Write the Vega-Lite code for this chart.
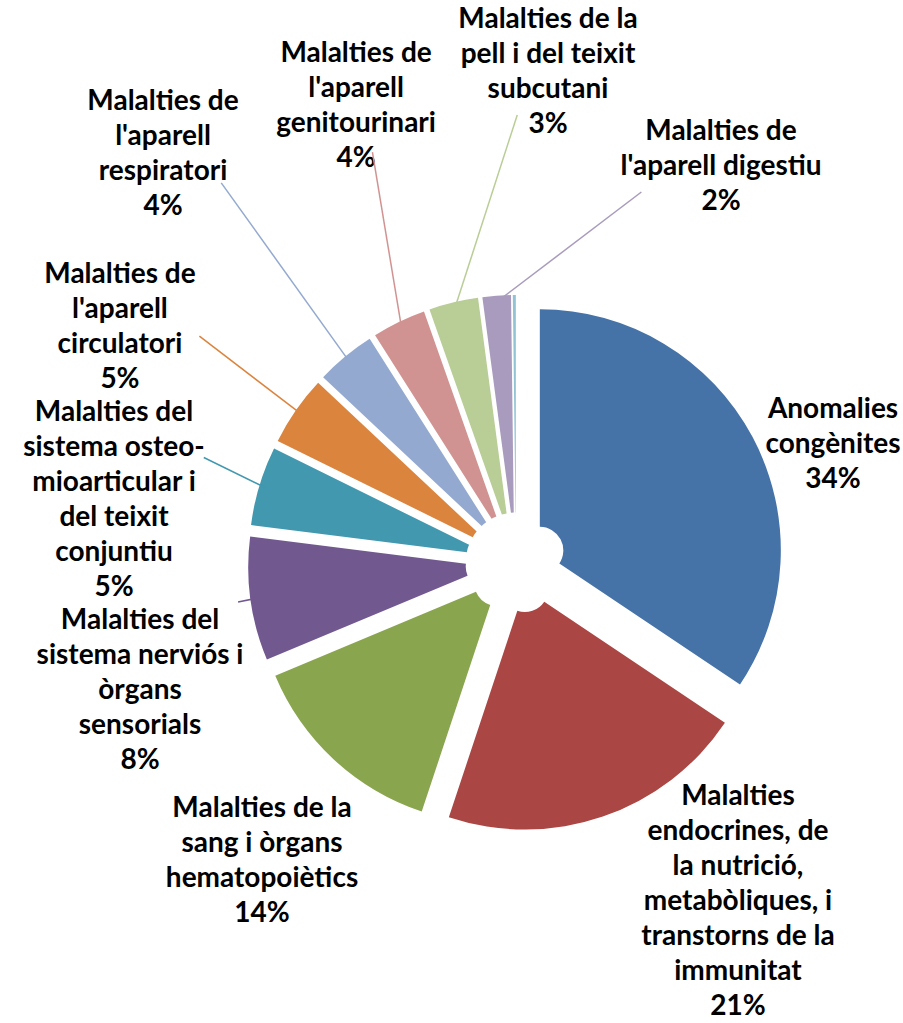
{
  "$schema": "https://vega.github.io/schema/vega-lite/v6.json",
  "width": 774,
  "height": 920,
  "padding": {"left": 129, "top": 103, "right": 0, "bottom": 0},
  "autosize": "none",
  "background": "white",
  "config": {"view": {"stroke": null}},
  "data": {
    "values": [
      {"ordre": 1, "categoria": "Anomalies congènites", "pct": 34.4, "etiqueta": ["Anomalies", "congènites", "34%"]},
      {"ordre": 2, "categoria": "Malalties endocrines, de la nutrició, metabòliques, i transtorns de la immunitat", "pct": 20.7, "etiqueta": ["Malalties", "endocrines, de", "la nutrició,", "metabòliques, i", "transtorns de la", "immunitat", "21%"]},
      {"ordre": 3, "categoria": "Malalties de la sang i òrgans hematopoiètics", "pct": 13.6, "etiqueta": ["Malalties de la", "sang i òrgans", "hematopoiètics", "14%"]},
      {"ordre": 4, "categoria": "Malalties del sistema nerviós i òrgans sensorials", "pct": 8.3, "etiqueta": ["Malalties del", "sistema nerviós i", "òrgans", "sensorials", "8%"]},
      {"ordre": 5, "categoria": "Malalties del sistema osteo-mioarticular i del teixit conjuntiu", "pct": 5.3, "etiqueta": ["Malalties del", "sistema osteo-", "mioarticular i", "del teixit", "conjuntiu", "5%"]},
      {"ordre": 6, "categoria": "Malalties de l'aparell circulatori", "pct": 4.7, "etiqueta": ["Malalties de", "l'aparell", "circulatori", "5%"]},
      {"ordre": 7, "categoria": "Malalties de l'aparell respiratori", "pct": 4.0, "etiqueta": ["Malalties de", "l'aparell", "respiratori", "4%"]},
      {"ordre": 8, "categoria": "Malalties de l'aparell genitourinari", "pct": 3.6, "etiqueta": ["Malalties de", "l'aparell", "genitourinari", "4%"]},
      {"ordre": 9, "categoria": "Malalties de la pell i del teixit subcutani", "pct": 3.3, "etiqueta": ["Malalties de la", "pell i del teixit", "subcutani", "3%"]},
      {"ordre": 10, "categoria": "Malalties de l'aparell digestiu", "pct": 1.9, "etiqueta": ["Malalties de", "l'aparell digestiu", "2%"]},
      {"ordre": 11, "categoria": "Altres", "pct": 0.2, "etiqueta": [""]}
    ]
  },
  "transform": [
    {"joinaggregate": [{"op": "sum", "field": "pct", "as": "total"}]},
    {"window": [{"op": "sum", "field": "pct", "as": "acumulat"}], "sort": [{"field": "ordre"}], "frame": [null, 0]}
  ],
  "layer": [
    {
      "mark": {"type": "arc", "innerRadius": 23.5, "outerRadius": 241},
      "encoding": {
        "theta": {"field": "pct", "type": "quantitative", "stack": true},
        "order": {"field": "ordre", "type": "quantitative"},
        "color": {
          "field": "categoria",
          "type": "nominal",
          "legend": null,
          "scale": {
            "domain": [
              "Anomalies congènites",
              "Malalties endocrines, de la nutrició, metabòliques, i transtorns de la immunitat",
              "Malalties de la sang i òrgans hematopoiètics",
              "Malalties del sistema nerviós i òrgans sensorials",
              "Malalties del sistema osteo-mioarticular i del teixit conjuntiu",
              "Malalties de l'aparell circulatori",
              "Malalties de l'aparell respiratori",
              "Malalties de l'aparell genitourinari",
              "Malalties de la pell i del teixit subcutani",
              "Malalties de l'aparell digestiu",
              "Altres"
            ],
            "range": ["#4572A7", "#AA4643", "#89A54E", "#71588F", "#4198AF", "#DB843D", "#93A9CF", "#D19392", "#B9CD96", "#A99BBD", "#91C3D5"]
          }
        },
        "x": {"value": {"expr": "width/2 + 27*sin(PI*(datum.pct_start + datum.pct_end)/datum.total)"}},
        "y": {"value": {"expr": "height/2 - 27*cos(PI*(datum.pct_start + datum.pct_end)/datum.total)"}}
      }
    },
    {
      "mark": {"type": "text", "font": "Lato", "fontWeight": "bold", "fontSize": 28, "lineHeight": 35, "align": "center", "baseline": "middle", "color": "#000000"},
      "encoding": {
        "theta": {
          "field": "pct",
          "type": "quantitative",
          "stack": true,
          "scale": {
            "domain": [17.2, 44.75, 61.9, 72.85, 79.65, 84.65, 89.0, 92.8, 96.25, 98.85],
            "range": [1.1212, 2.3826, 3.9420, 4.5581, 5.0685, 5.3404, 5.6302, 5.9790, 6.3420, 6.7267]
          }
        },
        "order": {"field": "ordre", "type": "quantitative"},
        "radius": {
          "field": "pct",
          "type": "quantitative",
          "scale": {
            "type": "linear",
            "zero": false,
            "domain": [1.9, 3.3, 3.6, 4.0, 4.7, 5.3, 8.3, 13.6, 20.7, 34.4],
            "range": [477.7, 544.2, 534.0, 581.0, 489.4, 428.9, 380.5, 353.9, 322.6, 352.0]
          }
        },
        "text": {"field": "etiqueta"}
      }
    },
    {
      "transform": [{"filter": "datum.ordre >= 4 && datum.ordre <= 10"}],
      "mark": {"type": "rule", "strokeWidth": 1.5},
      "encoding": {
        "color": {"field": "categoria", "type": "nominal", "legend": null},
        "x": {"value": {"expr": "width/2 + 262*sin(2*PI*(datum.acumulat - datum.pct/2)/datum.total)"}},
        "y": {"value": {"expr": "height/2 - 262*cos(2*PI*(datum.acumulat - datum.pct/2)/datum.total)"}},
        "x2": {"value": {"expr": "width/2 + scale('radius', datum.pct)*sin(scale('layer_1_theta', datum.acumulat - datum.pct/2)) + 100*(262*sin(2*PI*(datum.acumulat - datum.pct/2)/datum.total) - scale('radius', datum.pct)*sin(scale('layer_1_theta', datum.acumulat - datum.pct/2))) / sqrt(pow(262*sin(2*PI*(datum.acumulat - datum.pct/2)/datum.total) - scale('radius', datum.pct)*sin(scale('layer_1_theta', datum.acumulat - datum.pct/2)), 2) + pow(scale('radius', datum.pct)*cos(scale('layer_1_theta', datum.acumulat - datum.pct/2)) - 262*cos(2*PI*(datum.acumulat - datum.pct/2)/datum.total), 2))"}},
        "y2": {"value": {"expr": "height/2 - scale('radius', datum.pct)*cos(scale('layer_1_theta', datum.acumulat - datum.pct/2)) + 100*(scale('radius', datum.pct)*cos(scale('layer_1_theta', datum.acumulat - datum.pct/2)) - 262*cos(2*PI*(datum.acumulat - datum.pct/2)/datum.total)) / sqrt(pow(262*sin(2*PI*(datum.acumulat - datum.pct/2)/datum.total) - scale('radius', datum.pct)*sin(scale('layer_1_theta', datum.acumulat - datum.pct/2)), 2) + pow(scale('radius', datum.pct)*cos(scale('layer_1_theta', datum.acumulat - datum.pct/2)) - 262*cos(2*PI*(datum.acumulat - datum.pct/2)/datum.total), 2))"}}
      }
    }
  ],
  "resolve": {"scale": {"theta": "independent"}}
}
